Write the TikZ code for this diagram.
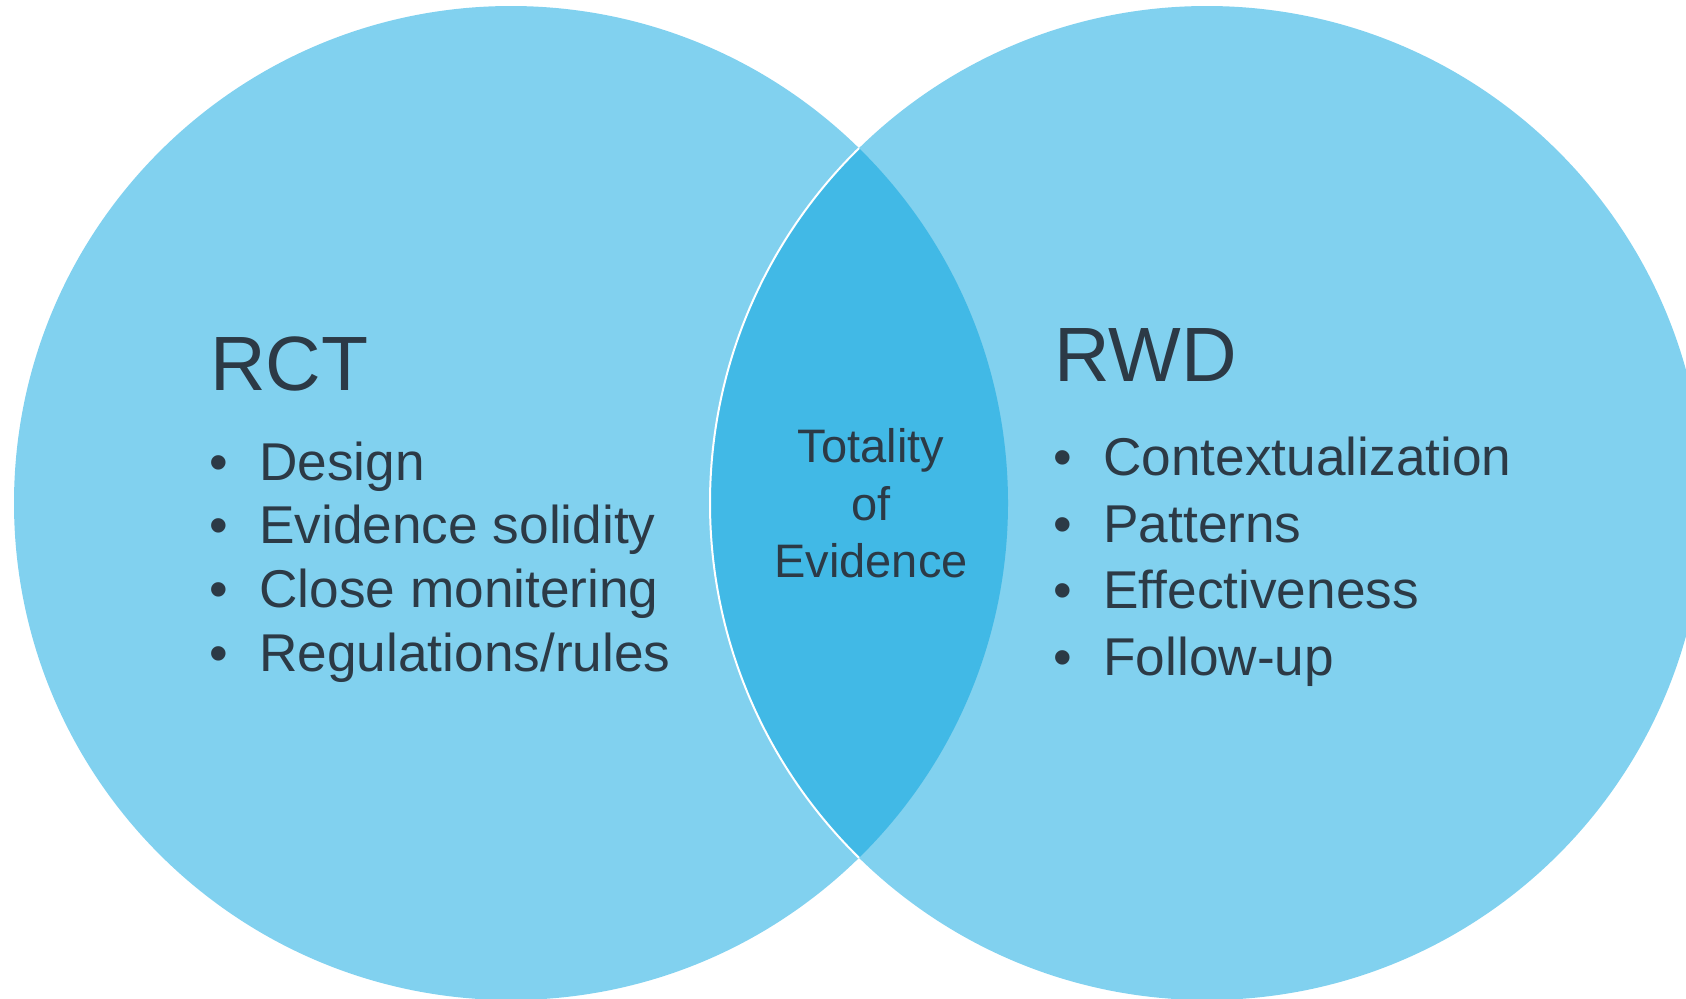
\documentclass[tikz,border=0pt]{standalone}
\usepackage{fontspec}
\setmainfont{Liberation Sans}
\usepackage{xcolor}
\usepackage{tikz}
\definecolor{circleblue}{HTML}{81D1EF}
\definecolor{overlapblue}{HTML}{41B9E6}
\definecolor{textgray}{HTML}{2C3A46}
\tikzstyle{heading} = [anchor=base west, inner sep=0pt, text=textgray, font=\fontsize{38.5}{46}\selectfont]
\tikzstyle{point} = [anchor=base west, inner sep=0pt, text=textgray, font=\fontsize{26.6}{32}\selectfont]
\tikzstyle{overlap} = [anchor=base, inner sep=0pt, text=textgray, font=\fontsize{23.5}{28}\selectfont]
\newcommand{\bul}{\makebox[25pt][l]{\textbullet}}

\begin{document}
\begin{tikzpicture}[x=0.5pt,y=-0.5pt]
        \clip (0,0) rectangle (1686,998);
        % the two sets
        \fill [circleblue] (511,503) circle (497);
        \fill [circleblue] (1207,503) circle (497);
        \begin{scope}
            \clip (511,503) circle (497);
            \fill [overlapblue] (1207,503) circle (497);
            \draw [white, line width=1pt] (1207,503) circle (497);
        \end{scope}
        % left side
        \node (rct) [heading] at (210,390) {RCT};
        \node (design) [point] at (209,480) {\bul Design};
        \node (solidity) [point] at (209,543) {\bul Evidence solidity};
        \node (monitor) [point] at (209,607) {\bul Close monitering};
        \node (rules) [point] at (209,671) {\bul Regulations/rules};
        % right side
        \node (rwd) [heading] at (1054,381) {RWD};
        \node (context) [point] at (1053,475) {\bul Contextualization};
        \node (patterns) [point] at (1053,542) {\bul Patterns};
        \node (effect) [point] at (1053,608) {\bul Effectiveness};
        \node (followup) [point] at (1053,675) {\bul Follow-up};
        % middle
        \node (totality) [overlap] at (871,462) {Totality};
        \node (of) [overlap] at (871,520) {of};
        \node (evidence) [overlap] at (871,577) {Evidence};
    \end{tikzpicture}
\end{document}
